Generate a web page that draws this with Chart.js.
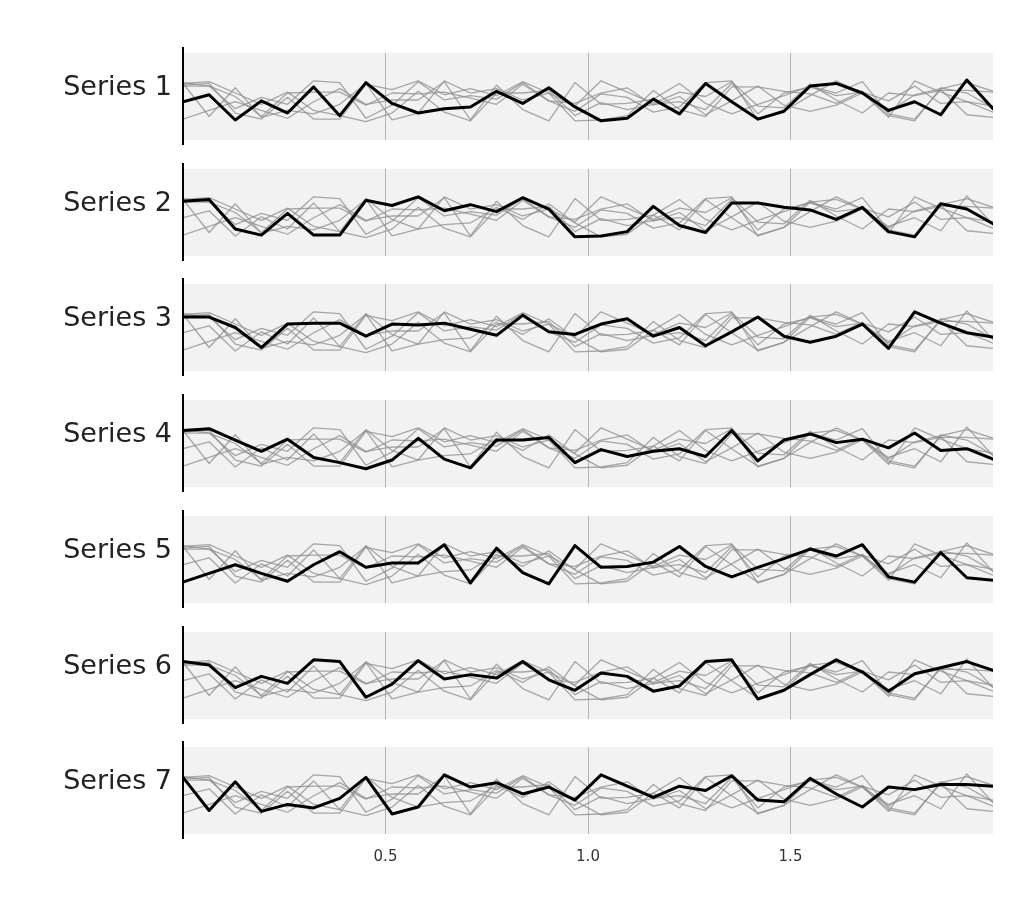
<!DOCTYPE html>
<html lang="en">
<head>
  <meta charset="UTF-8">
  <title>Series small multiples</title>
  <script src="https://cdn.jsdelivr.net/npm/chart.js"></script>
  <style>
    body { margin: 0; background: #fff; }
    #wrap { position: relative; width: 1030px; height: 900px; }
    .panel { position: absolute; left: 0; }
  </style>
</head>
<body>
  <div id="wrap"></div>
  <script>
    const seriesNames = ['Series 1', 'Series 2', 'Series 3', 'Series 4', 'Series 5', 'Series 6', 'Series 7'];
    const xTicks = [0.5, 1.0, 1.5];
    // 32 samples evenly spread over 0..2
    const xs = Array.from({ length: 32 }, (_, i) => i * 2 / 31);

    const series1 = [0.44, 0.52, 0.23, 0.45, 0.31, 0.61, 0.28, 0.66, 0.42, 0.31, 0.36, 0.38, 0.56, 0.42, 0.60, 0.38,
                     0.22, 0.25, 0.47, 0.30, 0.65, 0.44, 0.24, 0.33, 0.62, 0.65, 0.54, 0.34, 0.44, 0.29, 0.69, 0.36];
    const series2 = [0.63, 0.65, 0.31, 0.24, 0.49, 0.24, 0.24, 0.64, 0.58, 0.68, 0.52, 0.59, 0.51, 0.67, 0.54, 0.22,
                     0.23, 0.28, 0.57, 0.35, 0.27, 0.61, 0.61, 0.56, 0.53, 0.42, 0.56, 0.28, 0.22, 0.60, 0.54, 0.37];
    const series3 = [0.62, 0.62, 0.50, 0.27, 0.54, 0.55, 0.55, 0.40, 0.54, 0.53, 0.55, 0.48, 0.41, 0.64, 0.45, 0.42,
                     0.54, 0.60, 0.40, 0.50, 0.29, 0.45, 0.62, 0.40, 0.33, 0.40, 0.54, 0.26, 0.68, 0.55, 0.44, 0.39];
    const series4 = [0.65, 0.67, 0.54, 0.41, 0.55, 0.34, 0.28, 0.21, 0.31, 0.56, 0.32, 0.22, 0.54, 0.54, 0.57, 0.28,
                     0.43, 0.35, 0.41, 0.44, 0.35, 0.65, 0.30, 0.54, 0.61, 0.51, 0.55, 0.45, 0.62, 0.42, 0.44, 0.32];
    const series5 = [0.24, 0.34, 0.44, 0.34, 0.25, 0.44, 0.59, 0.41, 0.46, 0.46, 0.67, 0.23, 0.63, 0.35, 0.22, 0.66,
                     0.41, 0.42, 0.47, 0.65, 0.42, 0.30, 0.41, 0.51, 0.62, 0.54, 0.67, 0.30, 0.24, 0.58, 0.29, 0.26];
    const series6 = [0.66, 0.62, 0.36, 0.49, 0.41, 0.68, 0.66, 0.25, 0.40, 0.67, 0.46, 0.51, 0.47, 0.66, 0.45, 0.33,
                     0.53, 0.49, 0.32, 0.38, 0.66, 0.68, 0.23, 0.33, 0.51, 0.68, 0.54, 0.32, 0.52, 0.59, 0.66, 0.56];
    const series7 = [0.65, 0.27, 0.60, 0.26, 0.34, 0.30, 0.41, 0.65, 0.23, 0.31, 0.68, 0.54, 0.59, 0.46, 0.54, 0.39,
                     0.68, 0.55, 0.42, 0.55, 0.50, 0.67, 0.39, 0.37, 0.64, 0.46, 0.31, 0.54, 0.51, 0.57, 0.57, 0.55];
    const allSeries = [series1, series2, series3, series4, series5, series6, series7];

    // grey panel background + left spine that overhangs it a little
    const panelDeco = {
      id: 'panelDeco',
      beforeDraw(chart) {
        const a = chart.chartArea;
        const ctx = chart.ctx;
        ctx.save();
        ctx.fillStyle = '#f2f2f2';
        ctx.fillRect(a.left, a.top, a.right - a.left, a.bottom - a.top);
        ctx.restore();
      },
      afterDraw(chart) {
        const a = chart.chartArea;
        const ctx = chart.ctx;
        ctx.save();
        ctx.strokeStyle = '#000';
        ctx.lineWidth = 2;
        ctx.beginPath();
        ctx.moveTo(a.left, a.top - 6);
        ctx.lineTo(a.left, a.bottom + 5);
        ctx.stroke();
        ctx.restore();
      }
    };

    const wrap = document.getElementById('wrap');

    seriesNames.forEach((name, k) => {
      const last = k === seriesNames.length - 1;
      const top = Math.round(53 + 115.7 * k) - 8;
      const height = last ? 143 : 103;

      const canvas = document.createElement('canvas');
      canvas.className = 'panel';
      canvas.width = 1030;
      canvas.height = height;
      canvas.style.top = top + 'px';
      canvas.style.width = '1030px';
      canvas.style.height = height + 'px';
      wrap.appendChild(canvas);

      const datasets = [];
      allSeries.forEach((s, j) => {
        if (j === k) return;
        datasets.push({
          data: s.map((v, i) => ({ x: xs[i], y: v })),
          borderColor: 'rgba(140, 140, 140, 0.75)',
          borderWidth: 1.3,
          order: 1
        });
      });
      datasets.push({
        data: allSeries[k].map((v, i) => ({ x: xs[i], y: v })),
        borderColor: '#000',
        borderWidth: 3,
        order: 0
      });

      new Chart(canvas, {
        type: 'line',
        data: { datasets: datasets },
        options: {
          responsive: false,
          animation: false,
          events: [],
          layout: { padding: { left: 0, right: 37, top: 8, bottom: last ? 0 : 8 } },
          elements: {
            point: { radius: 0 },
            line: { tension: 0, borderJoinStyle: 'round', borderCapStyle: 'round' }
          },
          plugins: { legend: { display: false }, tooltip: { enabled: false } },
          scales: {
            x: {
              type: 'linear',
              min: 0,
              max: 2,
              afterBuildTicks: s => { s.ticks = xTicks.map(v => ({ value: v })); },
              afterFit: s => { s.height = last ? 48 : 0; s.paddingLeft = 0; s.paddingRight = 0; },
              grid: { color: '#b4b4b4', lineWidth: 1, drawTicks: false },
              border: { display: false },
              ticks: {
                display: last,
                padding: 14,
                color: '#333',
                font: { family: 'DejaVu Sans', size: 15 },
                callback: v => v.toFixed(1)
              }
            },
            y: {
              min: 0,
              max: 1,
              afterBuildTicks: s => { s.ticks = [{ value: 0.6 }]; },
              afterFit: s => { s.width = 183; s.paddingTop = 0; s.paddingBottom = 0; },
              grid: { display: false, drawTicks: false },
              border: { display: false },
              ticks: {
                padding: 11,
                color: '#222',
                font: { family: 'DejaVu Sans', size: 27 },
                callback: () => name
              }
            }
          }
        },
        plugins: [panelDeco]
      });
    });
  </script>
</body>
</html>
